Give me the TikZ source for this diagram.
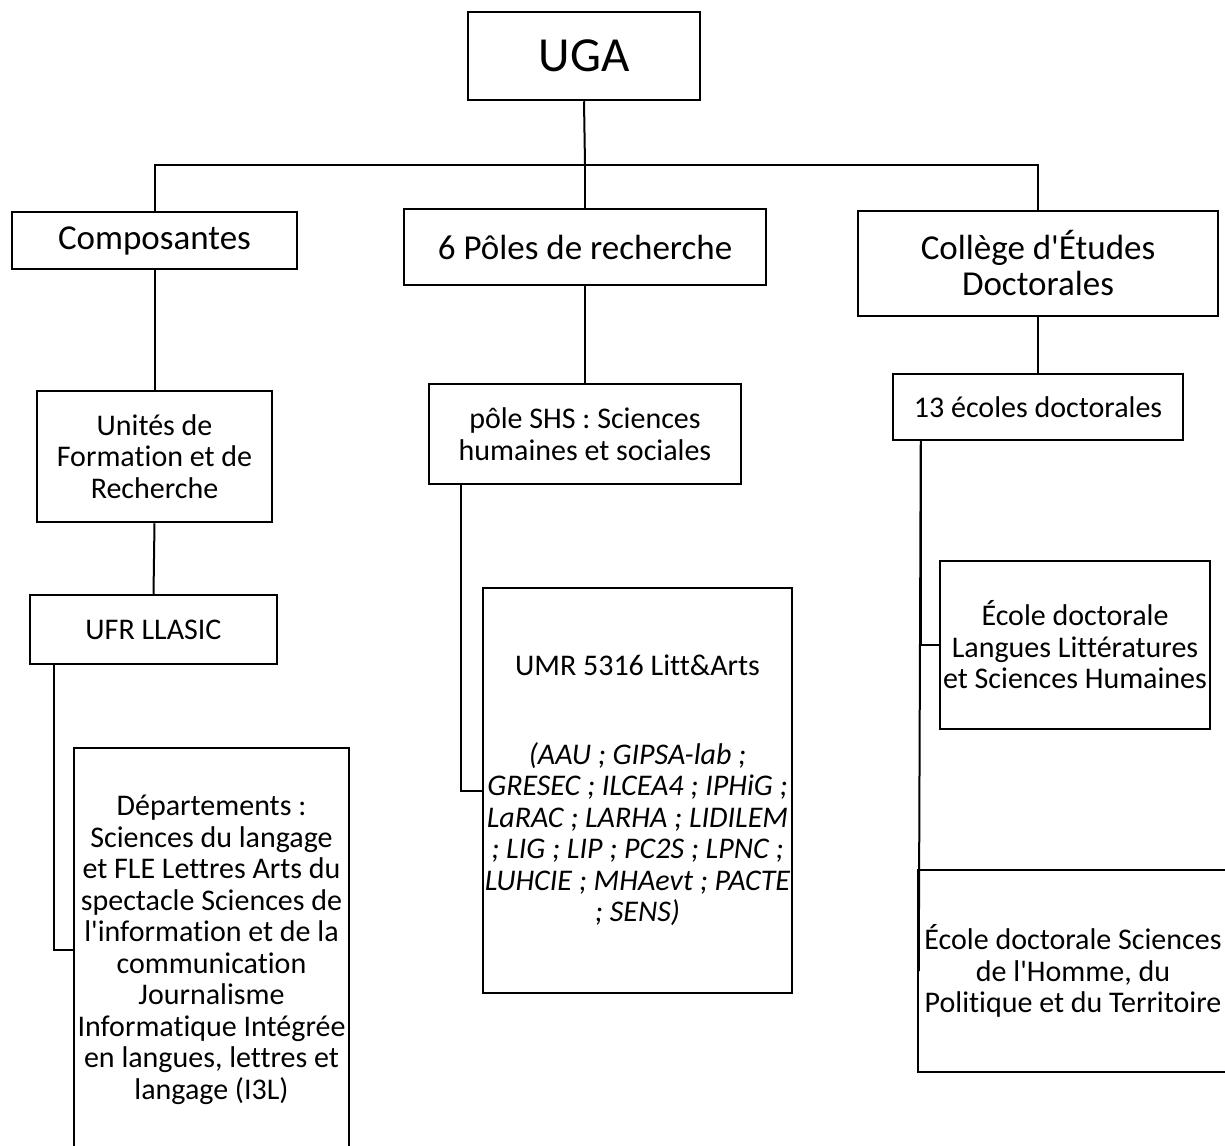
\documentclass[tikz,border=0pt]{standalone}
\usepackage{fontspec}
\setmainfont{Carlito}[Ligatures={NoCommon}]
\begin{document}
\begin{tikzpicture}[x=1pt,y=-1pt,
  box/.style={draw, line width=2.5pt, inner sep=0pt, align=center},
  big/.style={font=\fontsize{35}{36}\selectfont},
  small/.style={font=\fontsize{30}{31.5}\selectfont},
  conn/.style={line width=2pt}]
\useasboundingbox (0,0) rectangle (1225,1145);
\clip (0,0) rectangle (1225,1145);
\fill[white] (0,0) rectangle (1225,1145);
% top level
\node[box, minimum width=232pt, minimum height=88pt, font=\fontsize{49}{52}\selectfont] (uga) at (584,56) {UGA};
\node[box, big, minimum width=285pt, minimum height=57pt] (comp) at (154.5,240.5) {Composantes};
\node[box, big, minimum width=362pt, minimum height=76pt] (poles) at (585,247) {6 Pôles de recherche};
\node[box, big, minimum width=360pt, minimum height=105pt] (col) at (1038,263.5) {Collège d\textquotesingle Études\\Doctorales};
% second level
\node[box, small, minimum width=235pt, minimum height=131pt] (ufrs) at (154.5,456.5) {Unités de\\Formation et de\\Recherche};
\node[box, small, minimum width=312pt, minimum height=100pt] (shs) at (585,434) {pôle SHS : Sciences\\humaines et sociales};
\node[box, small, minimum width=290pt, minimum height=66pt] (ecoles) at (1038,407) {13 écoles doctorales};
% third level
\node[box, small, minimum width=247pt, minimum height=69pt] (llasic) at (153.5,629.5) {UFR LLASIC};
\node[box, small, minimum width=309pt, minimum height=405pt] (umr) at (637.5,790.5) {UMR 5316 Litt\&Arts\\[57pt]\itshape (AAU ; GIPSA-lab ;\\\itshape GRESEC ; ILCEA4 ; IPHiG ;\\\itshape LaRAC ; LARHA ; LIDILEM\\\itshape ; LIG ; LIP ; PC2S ; LPNC ;\\\itshape LUHCIE ; MHAevt ; PACTE\\\itshape ; SENS)};
\node[box, small, minimum width=275pt, minimum height=404pt] (dep) at (211.5,950) {Départements :\\Sciences du langage\\et FLE Lettres Arts du\\spectacle Sciences de\\l\textquotesingle information et de la\\communication\\Journalisme\\Informatique Intégrée\\en langues, lettres et\\langage (I3L)};
\node[box, small, minimum width=270pt, minimum height=168pt] (llsh) at (1075,645) {École doctorale\\Langues Littératures\\et Sciences Humaines};
\node[box, small, minimum width=310pt, minimum height=202pt] (shpt) at (1073,971) {École doctorale Sciences\\de l\textquotesingle Homme, du\\Politique et du Territoire};
% connectors
\coordinate (bar) at (585,165);
\draw[conn] (uga.south) -- (bar);
\draw[conn] (comp.north) |- (bar) -| (col.north);
\draw[conn] (poles.north) -- (bar);
\draw[conn] (comp.south) -- (ufrs.north);
\draw[conn] (ufrs.south) -- (llasic.north);
\draw[conn] (poles.south) -- (shs.north);
\draw[conn] (col.south) -- (ecoles.north);
\draw[conn] ([xshift=25pt]llasic.south west) |- (dep.west);
\draw[conn] ([xshift=33pt]shs.south west) |- (umr.west);
\draw[conn] ([xshift=29pt]ecoles.south west) coordinate (e0) |- (llsh.west);
\draw[conn] (e0) -- ([xshift=2pt]shpt.west);
\end{tikzpicture}
\end{document}
